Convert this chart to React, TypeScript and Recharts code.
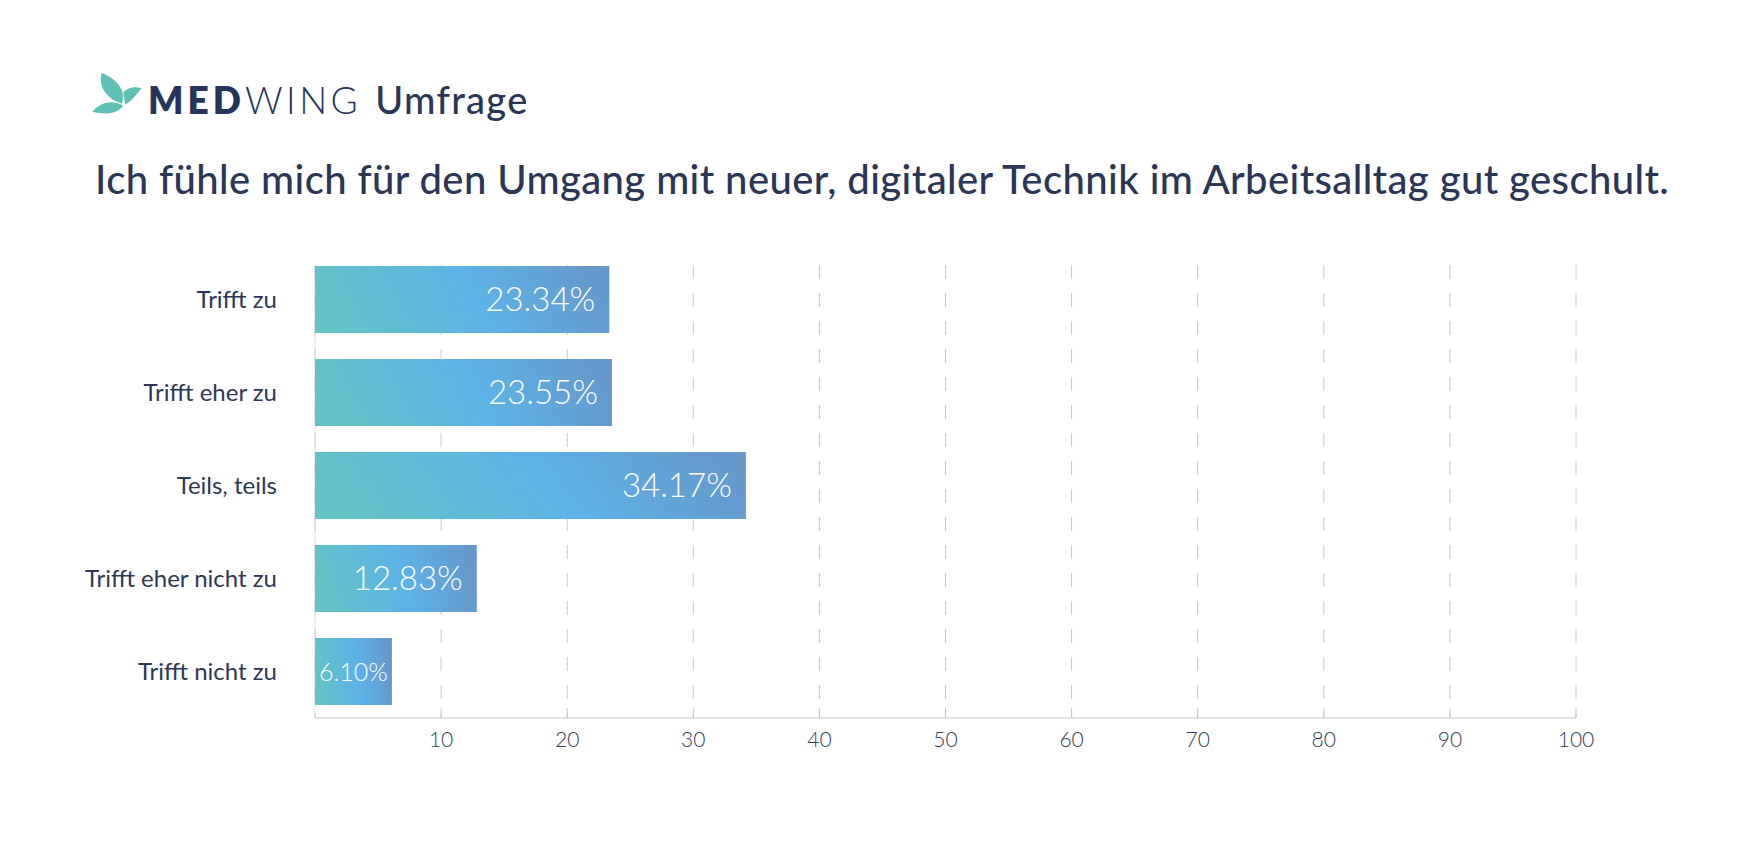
import React from 'react';
import { BarChart, Bar, XAxis, YAxis, CartesianGrid, LabelList } from 'recharts';

const categories = ['Trifft zu', 'Trifft eher zu', 'Teils, teils', 'Trifft eher nicht zu', 'Trifft nicht zu'];
const shares = [23.34, 23.55, 34.17, 12.83, 6.1];
const xTicks = [10, 20, 30, 40, 50, 60, 70, 80, 90, 100];

const data = categories.map((name, i) => ({ name, value: shares[i] }));

const NAVY = '#2a3654';
const FONT = 'Lato, "Open Sans", sans-serif';

const Logo = () => (
  <div style={{ position: 'absolute', left: 91, top: 72, display: 'flex', alignItems: 'flex-end' }}>
    <svg width={52} height={46} viewBox="0 0 50 45">
      <path d="M10 1 C23 6 34 16 30 31 C16 27 6 15 10 1 Z" fill="#5fc0b3" />
      <path d="M1 39 C9 29 21 27 31 33 C27 39 17 43 1 39 Z" fill="#5fc0b3" />
      <path d="M31 20 C37 14 43 14 49 16 C44 22 39 29 33 32 Z" fill="#5fc0b3" />
    </svg>
    <div style={{ marginLeft: 5, fontFamily: FONT, fontSize: 37, lineHeight: '37px', color: '#24345a', whiteSpace: 'nowrap' }}>
      <span style={{ fontWeight: 800, letterSpacing: 4 }}>MED</span>
      <span style={{ fontWeight: 300, letterSpacing: 3.5 }}>WING</span>
      <span style={{ fontWeight: 500, fontSize: 38, letterSpacing: 1.3, marginLeft: 14, color: NAVY }}>Umfrage</span>
    </div>
  </div>
);

const AxisTick = (props: any) => {
  const { x, y, payload } = props;
  return (
    <g>
      <line x1={x} x2={x} y1={y - 24} y2={y - 14} stroke="#c3c7d0" />
      <text x={x} y={y} dy="0.71em" textAnchor="middle" fontFamily={FONT} fontSize={21} fontWeight={300} fill="#2f3b59">
        {payload.value}
      </text>
    </g>
  );
};

// value label: white inside the bar's right end, shrunk when the bar is narrow
const ValueLabel = (props: any) => {
  const { x, y, width, height, value } = props;
  const text = `${Number(value).toFixed(2)}%`;
  const size = Math.min(33, (width - 8) / (text.length * 0.55));
  return (
    <text
      x={x + width - (size < 33 ? 4 : 14)}
      y={y + height / 2}
      dy="0.36em"
      textAnchor="end"
      fontFamily={FONT}
      fontSize={size}
      fontWeight={300}
      fill="#ffffff"
    >
      {text}
    </text>
  );
};

export default function App() {
  return (
    <div style={{ position: 'fixed', left: 0, top: 0, width: 1759, height: 849, background: '#fff' }}>
      <Logo />
      <div
        style={{
          position: 'absolute',
          left: 95,
          top: 155,
          fontFamily: FONT,
          fontSize: 40,
          fontWeight: 500,
          letterSpacing: 0.4,
          color: NAVY,
          whiteSpace: 'nowrap',
        }}
      >
        Ich fühle mich für den Umgang mit neuer, digitaler Technik im Arbeitsalltag gut geschult.
      </div>
      <div style={{ position: 'absolute', left: 0, top: 0 }}>
        <BarChart
          width={1759}
          height={849}
          data={data}
          layout="vertical"
          margin={{ top: 253, right: 183, bottom: 101, left: 15 }}
          barSize={67}
        >
          <defs>
            <linearGradient id="barFill" x1="0" y1="0.56" x2="1" y2="0.44">
              <stop offset="0%" stopColor="#64c3c4" />
              <stop offset="55%" stopColor="#5db2e6" />
              <stop offset="100%" stopColor="#6697cb" />
            </linearGradient>
          </defs>
          <CartesianGrid horizontal={false} y={265} height={453} stroke="#c3c8d3" strokeDasharray="14 14" />
          <CartesianGrid
            horizontal={false}
            y={265}
            height={453}
            stroke="#dcdfe5"
            verticalCoordinatesGenerator={({ offset }: any) => [offset.left]}
          />
          <XAxis
            type="number"
            domain={[0, 100]}
            ticks={xTicks}
            interval={0}
            axisLine={{ stroke: '#c6c9d1' }}
            tickLine={false}
            tickSize={0}
            tickMargin={14}
            tick={<AxisTick />}
          />
          <YAxis
            type="category"
            dataKey="name"
            width={300}
            axisLine={false}
            tickLine={false}
            tickMargin={32}
            tick={{ fill: '#2d3856', fontFamily: FONT, fontSize: 24 }}
          />
          <Bar dataKey="value" fill="url(#barFill)" isAnimationActive={false}>
            <LabelList dataKey="value" content={<ValueLabel />} />
          </Bar>
        </BarChart>
      </div>
    </div>
  );
}
